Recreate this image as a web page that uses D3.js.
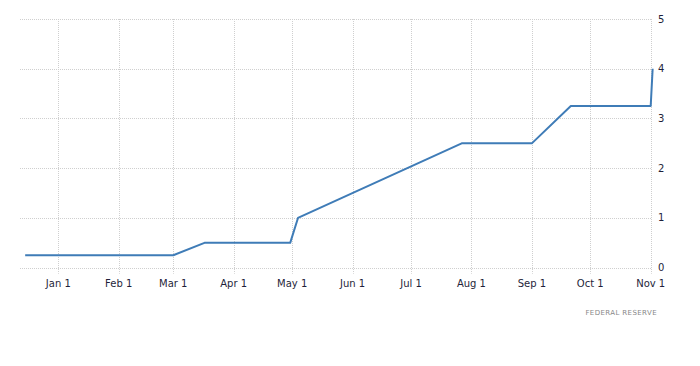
<!DOCTYPE html>
<html><head><meta charset="utf-8">
<script src="https://cdn.jsdelivr.net/npm/d3@7"></script>
<style>
body{margin:0;background:#fff;}
svg{display:block;}
</style></head>
<body>
<svg id="c" width="700" height="366"></svg>
<script>
const dates = ["2021-12-15","2022-03-01","2022-03-17","2022-04-30","2022-05-04","2022-07-27","2022-09-01","2022-09-21","2022-11-01","2022-11-02"];
const rates = [0.25,0.25,0.5,0.5,1.0,2.5,2.5,3.25,3.25,4.0];
const xTicks = ["2022-01-01","2022-02-01","2022-03-01","2022-04-01","2022-05-01","2022-06-01","2022-07-01","2022-08-01","2022-09-01","2022-10-01","2022-11-01"];
const yTicks = [0,1,2,3,4,5];
const source = "FEDERAL RESERVE";

const parse = d3.utcParse("%Y-%m-%d");
const data = dates.map((d,i)=>({date:parse(d), value:rates[i]}));
const svg = d3.select("#c");

const x = d3.scaleUtc().domain([parse("2022-01-01"), parse("2022-11-01")]).range([58.3, 650.7]);
const y = d3.scaleLinear().domain([0,5]).range([267.7, 19]);
const left = 20, right = 651;

// horizontal grid
svg.append("g").selectAll("line").data(yTicks).join("line")
  .attr("x1", left).attr("x2", right)
  .attr("y1", d=>Math.round(y(d))+0.5).attr("y2", d=>Math.round(y(d))+0.5)
  .attr("stroke", "#cfcfcf").attr("stroke-dasharray","1,1").attr("stroke-width",1);

// vertical grid
svg.append("g").selectAll("line").data(xTicks).join("line")
  .attr("x1", d=>Math.round(x(parse(d)))+0.5).attr("x2", d=>Math.round(x(parse(d)))+0.5)
  .attr("y1", y(5)).attr("y2", y(0)+6)
  .attr("stroke", "#cfcfcf").attr("stroke-dasharray","1,1").attr("stroke-width",1);

// x labels
const fmt = d3.utcFormat("%b %-d");
svg.append("g").selectAll("text").data(xTicks).join("text")
  .attr("x", d=>x(parse(d))).attr("y", 287)
  .attr("text-anchor","middle")
  .attr("font-family","DejaVu Sans, sans-serif").attr("font-size","10px")
  .attr("fill","#1f1f3a")
  .text(d=>fmt(parse(d)));

// y labels
svg.append("g").selectAll("text").data(yTicks).join("text")
  .attr("x", 658).attr("y", d=>y(d)+3.5)
  .attr("font-family","DejaVu Sans, sans-serif").attr("font-size","10px")
  .attr("fill","#1f1f3a")
  .text(d=>d);

// line
svg.append("path").datum(data)
  .attr("d", d3.line().x(d=>x(d.date)).y(d=>y(d.value)))
  .attr("fill","none").attr("stroke","#3f7cb7").attr("stroke-width",2)
  .attr("stroke-linejoin","round");

// source
svg.append("text").attr("x",657).attr("y",315).attr("text-anchor","end")
  .attr("font-family","DejaVu Sans, sans-serif").attr("font-size","7px")
  .attr("letter-spacing","0.4px")
  .attr("fill","#888").text(source);
</script>
</body></html>
